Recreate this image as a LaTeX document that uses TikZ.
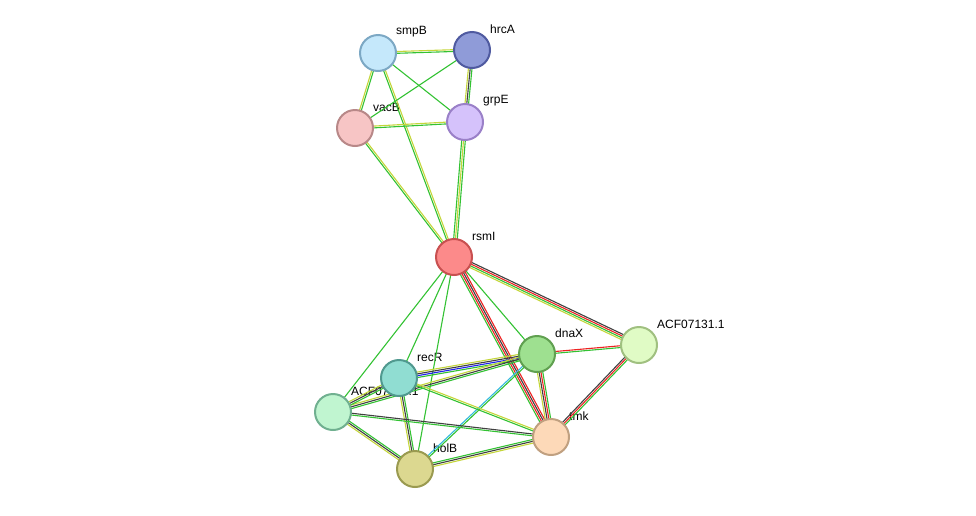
\documentclass[tikz,border=0pt]{standalone}
\usepackage{fontspec}
\setsansfont{Liberation Sans}
\usetikzlibrary{calc}
\definecolor{tm}{HTML}{33C233}
\definecolor{yg}{HTML}{C4D63A}
\definecolor{bk}{HTML}{404040}
\definecolor{rd}{HTML}{EE2222}
\definecolor{bl}{HTML}{2222EE}
\definecolor{cy}{HTML}{33BBDD}
\tikzset{
  prot/.style={circle, minimum size=36pt, inner sep=0pt, line width=2pt},
  lbl/.style={font=\sffamily\fontsize{12}{12}\selectfont, anchor=south west, inner sep=1pt}
}
% edge made of parallel coloured strands
\newcommand\link[4]{
  \foreach \c [count=\i] in {#4} {
    \pgfmathsetmacro\off{(\i-1-(#3-1)/2)*1.8}
    \draw[\c, line width=1.1pt] ($(#1.center)!\off pt!90:(#2.center)$) -- ($(#2.center)!\off pt!-90:(#1.center)$);
  }
}
\begin{document}
\begin{tikzpicture}[x=1pt, y=-1pt]
\useasboundingbox (0,0) rectangle (976,515);

% labels first (nodes cover them)
\foreach \n/\x/\y in {smpB/378/53, hrcA/472/50, vacB/355/128, grpE/465/122, rsmI/454/257,
  ACF07131.1/639/345, dnaX/537/354, recR/399/378, ACF07132.1/333/412, tmk/551/437, holB/415/469}
  \node[lbl] (l-\n) at (\x+17,\y-15) {\n};

% positions
\foreach \n/\x/\y in {smpB/378/53, hrcA/472/50, vacB/355/128, grpE/465/122, rsmI/454/257,
  acfA/639/345, dnaX/537/354, recR/399/378, acfB/333/412, tmk/551/437, holB/415/469}
  \coordinate (\n) at (\x,\y);

% edges
\link{smpB}{hrcA}{2}{tm,yg}
\link{smpB}{vacB}{2}{yg,tm}
\link{smpB}{grpE}{1}{tm}
\link{smpB}{rsmI}{2}{tm,yg}
\link{hrcA}{vacB}{1}{tm}
\link{hrcA}{grpE}{3}{yg,bk,tm}
\link{vacB}{grpE}{2}{tm,yg}
\link{vacB}{rsmI}{2}{tm,yg}
\link{grpE}{rsmI}{3}{tm,yg,tm}
\link{rsmI}{acfA}{4}{yg,tm,rd,bk}
\link{rsmI}{dnaX}{1}{tm}
\link{rsmI}{tmk}{4}{tm,rd,bk,rd}
\link{rsmI}{recR}{1}{tm}
\link{rsmI}{acfB}{1}{tm}
\link{rsmI}{holB}{1}{tm}
\link{dnaX}{acfA}{2}{tm,rd}
\link{tmk}{acfA}{3}{tm,rd,bk}
\link{dnaX}{recR}{4}{yg,bk,bl,tm}
\link{dnaX}{acfB}{3}{yg,bk,tm}
\link{dnaX}{tmk}{4}{yg,bk,rd,tm}
\link{dnaX}{holB}{2}{cy,tm}
\link{recR}{acfB}{3}{yg,bk,tm}
\link{recR}{holB}{3}{yg,bk,tm}
\link{recR}{tmk}{2}{tm,yg}
\link{acfB}{tmk}{2}{tm,bk}
\link{acfB}{holB}{3}{yg,bk,tm}
\link{holB}{tmk}{3}{yg,bk,tm}

% proteins
\node[prot, fill={rgb,255:red,197;green,232;blue,251}, draw={rgb,255:red,124;green,168;blue,196}] (n-smpB) at (smpB) {};
\node[prot, fill={rgb,255:red,143;green,155;blue,216}, draw={rgb,255:red,79;green,90;blue,160}] (n-hrcA) at (hrcA) {};
\node[prot, fill={rgb,255:red,247;green,197;blue,197}, draw={rgb,255:red,184;green,136;blue,136}] (n-vacB) at (vacB) {};
\node[prot, fill={rgb,255:red,213;green,194;blue,251}, draw={rgb,255:red,154;green,128;blue,200}] (n-grpE) at (grpE) {};
\node[prot, fill={rgb,255:red,252;green,138;blue,138}, draw={rgb,255:red,200;green,80;blue,80}] (n-rsmI) at (rsmI) {};
\node[prot, fill={rgb,255:red,224;green,251;blue,197}, draw={rgb,255:red,160;green,192;blue,128}] (n-acfA) at (acfA) {};
\node[prot, fill={rgb,255:red,158;green,224;blue,144}, draw={rgb,255:red,96;green,160;blue,80}] (n-dnaX) at (dnaX) {};
\node[prot, fill={rgb,255:red,144;green,221;blue,210}, draw={rgb,255:red,80;green,153;blue,143}] (n-recR) at (recR) {};
\node[prot, fill={rgb,255:red,192;green,245;blue,208}, draw={rgb,255:red,112;green,176;blue,144}] (n-acfB) at (acfB) {};
\node[prot, fill={rgb,255:red,253;green,217;blue,184}, draw={rgb,255:red,192;green,160;blue,128}] (n-tmk) at (tmk) {};
\node[prot, fill={rgb,255:red,220;green,216;blue,144}, draw={rgb,255:red,154;green,154;blue,80}] (n-holB) at (holB) {};
\end{tikzpicture}
\end{document}
